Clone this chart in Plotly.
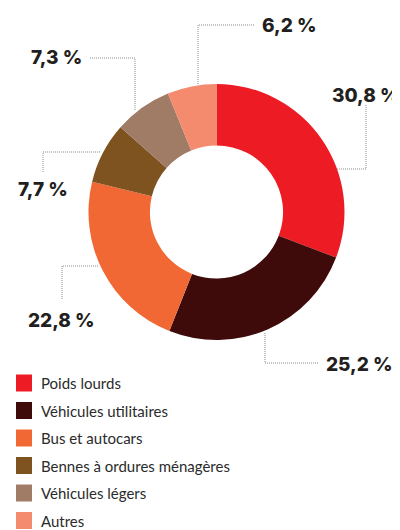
import plotly.graph_objects as go

W, H = 400, 530
OFF = 8  # page body margin shifts the figure by 8px

categories = ["Poids lourds", "Véhicules utilitaires", "Bus et autocars",
              "Bennes à ordures ménagères", "Véhicules légers", "Autres"]
shares = [30.8, 25.2, 22.8, 7.7, 7.3, 6.2]
colors = ["#ED1C24", "#3F0B0A", "#F26835", "#7F531F", "#A07B66", "#F48A6E"]

def px(x, y):
    # screen pixel position -> paper coords
    return (x - OFF) / W, 1 - (y - OFF) / H

# label centre and leader path (pixels), same order as categories
label_pos = [(365, 96), (359, 364), (61, 320), (43, 190), (56, 58), (289, 26)]
leaders = [
    [(337, 169), (366, 169), (366, 104)],
    [(265, 333), (265, 363), (318, 363)],
    [(98, 266), (62, 266), (62, 300)],
    [(100, 152), (43, 152), (43, 173)],
    [(135, 110), (135, 58), (90, 58)],
    [(198, 84), (198, 25), (255, 25)],
]

x0d, y1d = px(88, 84)
x1d, y0d = px(345, 340)
fig = go.Figure(go.Pie(
    labels=categories, values=shares, sort=False, direction="clockwise",
    hole=0.52, textinfo="none", hoverinfo="label+value",
    marker=dict(colors=colors, line=dict(width=0)),
    domain=dict(x=[x0d, x1d], y=[y0d, y1d]),
))

shapes = []
annotations = []
for val, (lx, ly), pts in zip(shares, label_pos, leaders):
    path = "M " + " L ".join(f"{px(x, y)[0]},{px(x, y)[1]}" for x, y in pts)
    shapes.append(dict(type="path", xref="paper", yref="paper", path=path,
                       line=dict(color="#8c8c8c", width=1, dash="1px,1px")))
    ax, ay = px(lx, ly)
    annotations.append(dict(x=ax, y=ay, xref="paper", yref="paper",
                            text=f"{val:.1f} %".replace(".", ","), showarrow=False,
                            xanchor="center", yanchor="middle",
                            font=dict(family="Inter", size=19, color="#231F20", weight=800)))

# legend drawn by hand (bigger squares, wider row spacing)
for i, (name, col) in enumerate(zip(categories, colors)):
    cy = 383 + i * 27.5
    x0, y0 = px(16, cy - 8.5)
    x1, y1 = px(32, cy + 8.5)
    shapes.append(dict(type="rect", xref="paper", yref="paper", x0=x0, x1=x1, y0=y1, y1=y0,
                       fillcolor=col, line=dict(width=0)))
    tx, ty = px(39, cy)
    annotations.append(dict(x=tx, y=ty, xref="paper", yref="paper", text=name,
                            showarrow=False, xanchor="left", yanchor="middle",
                            font=dict(family="Lato", size=15, color="#2b2b2b")))

fig.update_layout(
    width=W, height=H, margin=dict(l=0, r=0, t=0, b=0),
    paper_bgcolor="white", plot_bgcolor="white",
    showlegend=False, shapes=shapes, annotations=annotations,
)

fig.write_html("out.html")
